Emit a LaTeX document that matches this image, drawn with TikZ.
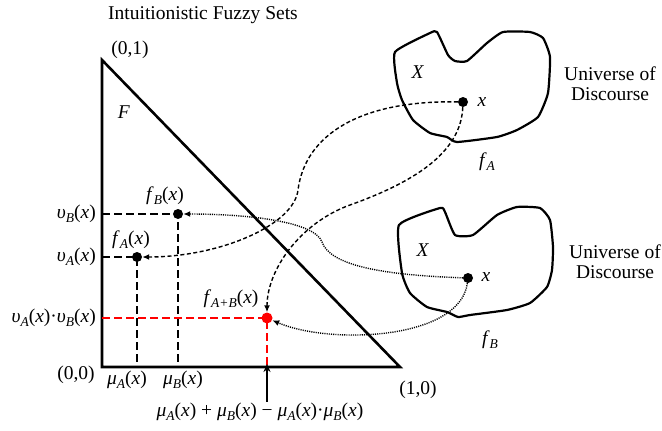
\documentclass[tikz,border=0pt]{standalone}
\usepackage{fontspec}
\setmainfont{Liberation Serif}
\usetikzlibrary{arrows.meta}
\newcommand{\mysub}[1]{\raisebox{-0.45ex}{\fontsize{13.5}{14}\selectfont\itshape #1}}
\newcommand{\fx}[2]{\textit{#1}\mysub{#2}(\textit{x})}
\begin{document}
\begin{tikzpicture}[x=1pt,y=-1pt,
  lbl/.style={font=\fontsize{19.5}{22}\selectfont, inner sep=1pt},
  tri/.style={line width=2.6pt, line join=miter},
  gridline/.style={dash pattern=on 7.5pt off 4.5pt, line width=2pt},
  dot/.style={circle, fill=black, inner sep=0pt, minimum size=10pt},
  reddot/.style={circle, fill=red, inner sep=0pt, minimum size=11pt},
  dcurve/.style={dash pattern=on 4pt off 2.5pt, line width=1.4pt, -{Latex[length=7pt,width=6pt]}},
  tcurve/.style={dash pattern=on 1.1pt off 1.1pt, line width=1.4pt, -{Latex[length=7pt,width=6pt]}},
  blob/.style={line width=2.2pt, line join=round}]
\useasboundingbox (0,0) rectangle (662,431);

% triangle
\coordinate (T) at (102,60);
\coordinate (O) at (102,367);
\coordinate (R) at (400,367);
\draw[tri] (T) -- (O) -- (R) -- cycle;

% axis points
\coordinate (vB) at (102,214);
\coordinate (vA) at (102,257);
\coordinate (vAB) at (102,318);
\coordinate (mA) at (137,367);
\coordinate (mB) at (178,367);
\coordinate (mAB) at (267,367);
\coordinate (PA) at (137,257);
\coordinate (PB) at (178,214);
\coordinate (PAB) at (267,318);

\draw[gridline] (vB) -- (PB) -- (mB);
\draw[gridline] (vA) -- (PA) -- (mA);
\draw[gridline, red] (vAB) -- (PAB) -- (mAB);

\node[dot] (fA) at (PA) {};
\node[dot] (fB) at (PB) {};
\node[reddot] (fAB) at (PAB) {};

% blobs
\draw[blob] plot[smooth cycle, tension=0.3] coordinates {
  (395,52) (430,33) (437,32) (448,55) (455,61) (467,61) (487,43) (503,32)
  (530,32) (543,38) (550,57) (548,93) (538,117) (517,130) (497,137)
  (457,142) (447,137) (430,133) (413,120) (402,100) (397,83)};
\draw[blob] plot[smooth cycle, tension=0.3] coordinates {
  (399,225) (440,208) (445,212) (455,235) (473,235) (497,215) (517,207)
  (540,208) (550,220) (553,247) (552,270) (547,287) (530,303) (507,310)
  (470,315) (458,317) (447,312) (427,307) (410,293) (402,273)};

\node[dot] (xA) at (463,102) {};
\node[dot] (xB) at (468,278) {};

% labels
\node[lbl] (title) at (203,15) {Intuitionistic Fuzzy Sets};
\node[lbl] (l01) at (130,50) {(0,1)};
\node[lbl] (l00) at (76,375) {(0,0)};
\node[lbl] (l10) at (418,390) {(1,0)};
\node[lbl] (lF) at (124,112) {\textit{F}};
\node[lbl, anchor=east] (lvB) at (97,214) {\fx{υ}{B}};
\node[lbl, anchor=east] (lvA) at (97,257) {\fx{υ}{A}};
\node[lbl, anchor=east] (lvAB) at (97,318) {\fx{υ}{A}·\fx{υ}{B}};
\node[lbl] (lmA) at (127,380) {\fx{μ}{A}};
\node[lbl] (lmB) at (183,380) {\fx{μ}{B}};
\node[lbl] (lfA) at (131,240) {\fx{f}{A}};
\node[lbl] (lfB) at (165,196) {\fx{f}{B}};
\node[lbl] (lfAB) at (231,299) {\fx{f}{A+B}};
\node[lbl] (lsum) at (260,412) {\fx{μ}{A} + \fx{μ}{B} − \fx{μ}{A}·\fx{μ}{B}};
\draw[line width=1.3pt, -{Stealth[length=8pt,width=7pt]}] (lsum.north -| mAB) -- ([yshift=3pt]mAB);

\node[lbl] (lXA) at (418,72) {\textit{X}};
\node[lbl] (lxA) at (482,102) {\textit{x}};
\node[lbl] (lfA2) at (487,162) {\textit{f}\mysub{A}};
\node[lbl, align=center] (uA) at (610,84) {Universe of\\[-2pt]Discourse};
\node[lbl] (lXB) at (423,250) {\textit{X}};
\node[lbl] (lxB) at (486,277) {\textit{x}};
\node[lbl] (lfB2) at (490,340) {\textit{f}\mysub{B}};
\node[lbl, align=center] (uB) at (615,262) {Universe of\\[-2pt]Discourse};

% curves
\draw[dcurve] (xA) .. controls (360,100) and (305,135) .. (298,190)
  .. controls (294,225) and (220,257) .. (fA);
\draw[dcurve] (xA) .. controls (461,150) and (420,180) .. (350,205)
  .. controls (300,223) and (267,270) .. (fAB);
\draw[tcurve] (xB) .. controls (380,275) and (330,265) .. (322,242)
  .. controls (315,222) and (250,214) .. (fB);
\draw[tcurve] (xB) .. controls (460,340) and (330,345) .. (fAB);
\end{tikzpicture}
\end{document}
